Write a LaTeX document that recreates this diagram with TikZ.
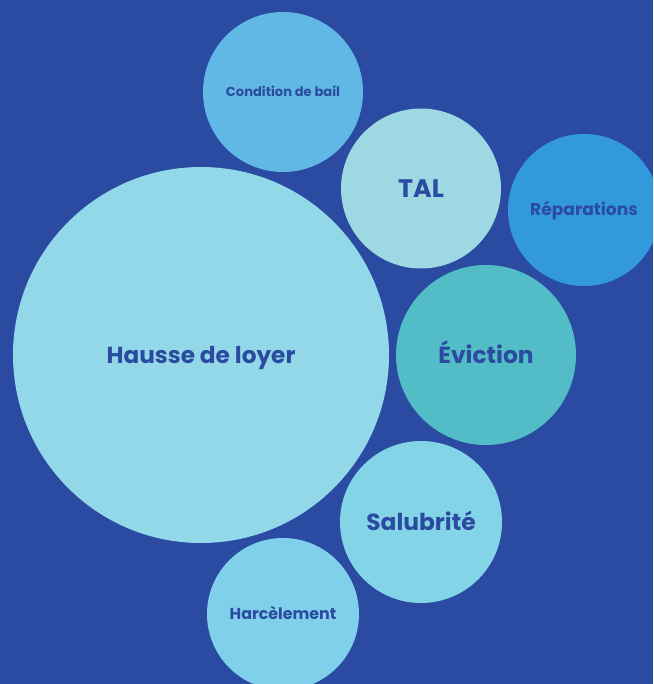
\documentclass[tikz,border=0pt]{standalone}
\usepackage{fontspec}
\setmainfont{Poppins}
\definecolor{bgblue}{HTML}{2A4BA1}
\definecolor{txtblue}{HTML}{2B4BA0}
\definecolor{cHausse}{HTML}{93D8E8}
\definecolor{cCond}{HTML}{62B8E4}
\definecolor{cTal}{HTML}{9DD8E3}
\definecolor{cRep}{HTML}{3399DD}
\definecolor{cEvic}{HTML}{52BDC7}
\definecolor{cSalu}{HTML}{84D4E8}
\definecolor{cHarc}{HTML}{80D0EC}
\tikzset{
  bub/.style={circle, draw=none, inner sep=0pt, text=txtblue, font=\bfseries}
}
\newcommand{\fsz}[1]{\fontsize{#1}{#1}\selectfont}
\newcommand{\bubtext}[2]{\fsz{#1}\raisebox{0pt}[0.7em][0pt]{#2}}
\begin{document}
\begin{tikzpicture}[x=0.75pt,y=-0.75pt]
\useasboundingbox (0,0) rectangle (653,684);
\clip (0,0) rectangle (653,684);
\fill[bgblue] (0,0) rectangle (653,684);
\node[bub, fill=cHausse, minimum size=376*0.75pt] (hausse) at (201,355) {\bubtext{17.4pt}{Hausse de loyer}};
\node[bub, fill=cCond, minimum size=160*0.75pt] (cond) at (283,92) {\bubtext{9.8pt}{Condition de bail}};
\node[bub, fill=cTal, minimum size=160*0.75pt] (tal) at (421,188.5) {\bubtext{19pt}{TAL}};
\node[bub, fill=cRep, minimum size=152*0.75pt] (rep) at (584,210) {\bubtext{12.8pt}{Réparations}};
\node[bub, fill=cEvic, minimum size=180*0.75pt] (evic) at (486,355) {\bubtext{17.5pt}{Éviction}};
\node[bub, fill=cSalu, minimum size=162*0.75pt] (salu) at (421,522) {\bubtext{17.5pt}{Salubrité}};
\node[bub, fill=cHarc, minimum size=152*0.75pt] (harc) at (283,614) {\bubtext{11.9pt}{Harcèlement}};
\end{tikzpicture}
\end{document}
